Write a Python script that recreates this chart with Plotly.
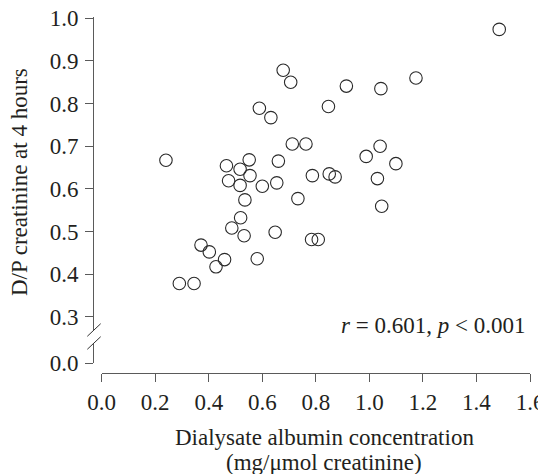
import plotly.graph_objects as go

# Data
albumin = [1.485, 0.678, 0.706, 0.914, 1.043, 1.174, 0.589, 0.632, 0.847, 0.712,
           0.763, 1.040, 0.988, 1.099, 0.240, 0.466, 0.517, 0.551, 0.660, 0.474,
           0.554, 0.517, 0.600, 0.654, 0.787, 0.850, 0.872, 1.030, 0.535, 0.733,
           1.046, 0.519, 0.486, 0.532, 0.648, 0.784, 0.809, 0.371, 0.402, 0.459,
           0.427, 0.581, 0.290, 0.345]
dp_creatinine = [0.974, 0.878, 0.850, 0.841, 0.835, 0.860, 0.789, 0.767, 0.793, 0.705,
                 0.705, 0.700, 0.676, 0.659, 0.667, 0.654, 0.646, 0.668, 0.665, 0.619,
                 0.631, 0.608, 0.606, 0.614, 0.631, 0.635, 0.628, 0.624, 0.574, 0.577,
                 0.559, 0.532, 0.508, 0.490, 0.498, 0.481, 0.481, 0.468, 0.452, 0.434,
                 0.417, 0.436, 0.378, 0.378]

x_ticks = [0.0, 0.2, 0.4, 0.6, 0.8, 1.0, 1.2, 1.4, 1.6]
y_ticks_upper = [0.3, 0.4, 0.5, 0.6, 0.7, 0.8, 0.9, 1.0]
y_ticks_lower = [0.0]

FONT = "Liberation Serif, Times New Roman, serif"
TXT = "#231f20"
AX = "#5a5a5a"
FS = 23

# The page body adds an 8px offset; work in screen pixels and convert.
OFF = 8
W, H = 546, 474
SL, SR, ST, SB = 93, 530, 17, 373   # screen px of plot area edges
L, T = SL - OFF, ST - OFF
R, B = W - (SR - OFF), H - (SB - OFF)
pw, ph = W - L - R, H - T - B

def px_x(p):
    return (p - SL) / pw

def px_y(p):
    return (SB - p) / ph

fig = go.Figure()
fig.add_trace(go.Scatter(
    x=albumin, y=dp_creatinine, mode="markers",
    marker=dict(symbol="circle-open", size=12.5, color="#2a2a2a", line=dict(width=1.1)),
    xaxis="x", yaxis="y", showlegend=False, hoverinfo="x+y"))
fig.add_trace(go.Scatter(x=[], y=[], xaxis="x", yaxis="y2", showlegend=False))

scale = 426.3  # px per unit on y
axis_common = dict(showline=True, linecolor=AX, linewidth=1, ticks="outside",
                   tickcolor=AX, tickwidth=1, ticklen=8, showgrid=False, zeroline=False,
                   tickfont=dict(family=FONT, size=FS, color=TXT), automargin=False,
                   ticklabeloverflow="allow")

fig.update_layout(
    width=W, height=H, template="none",
    paper_bgcolor="white", plot_bgcolor="white",
    margin=dict(l=L, r=R, t=T, b=B),
    font=dict(family=FONT, size=FS, color=TXT),
    xaxis=dict(domain=[px_x(101.7), px_x(530)], range=[0, 1.6],
               tickvals=x_ticks, ticktext=[f"{v:.1f}" for v in x_ticks],
               anchor="free", position=0, **axis_common),
    yaxis=dict(domain=[px_y(330), 1.0],
               range=[0.3 - (330 - 316.7) / scale, 1.0 + (18.3 - 17) / scale],
               tickvals=y_ticks_upper, ticktext=[f"{v:.1f}" for v in y_ticks_upper],
               anchor="free", position=0, ticklabelstandoff=2, **axis_common),
    yaxis2=dict(domain=[px_y(363), px_y(343)],
                range=[0, 20 / scale],
                tickvals=y_ticks_lower, ticktext=[f"{v:.1f}" for v in y_ticks_lower],
                anchor="free", position=0, ticklabelstandoff=2, **axis_common),
)

# axis break marks
for yc in (330, 343):
    fig.add_shape(type="line", xref="paper", yref="paper",
                  x0=px_x(87.3), y0=px_y(yc + 6.3),
                  x1=px_x(100.7), y1=px_y(yc - 6.3),
                  line=dict(color="#333333", width=1))

fig.add_annotation(text="D/P creatinine at 4 hours", textangle=-90,
                   xref="paper", yref="paper", x=px_x(19), y=px_y(182),
                   xanchor="center", yanchor="middle", showarrow=False,
                   font=dict(family=FONT, size=FS, color=TXT))
fig.add_annotation(text="Dialysate albumin concentration",
                   xref="paper", yref="paper", x=px_x(324), y=px_y(437),
                   xanchor="center", yanchor="middle", showarrow=False,
                   font=dict(family=FONT, size=FS, color=TXT))
fig.add_annotation(text="(mg/μmol creatinine)",
                   xref="paper", yref="paper", x=px_x(324), y=px_y(462),
                   xanchor="center", yanchor="middle", showarrow=False,
                   font=dict(family=FONT, size=FS, color=TXT))
fig.add_annotation(text="<i>r</i> = 0.601, <i>p</i> < 0.001",
                   xref="paper", yref="paper", x=px_x(527), y=px_y(325),
                   xanchor="right", yanchor="middle", showarrow=False,
                   font=dict(family=FONT, size=FS, color=TXT))

fig.write_html("out.html")
